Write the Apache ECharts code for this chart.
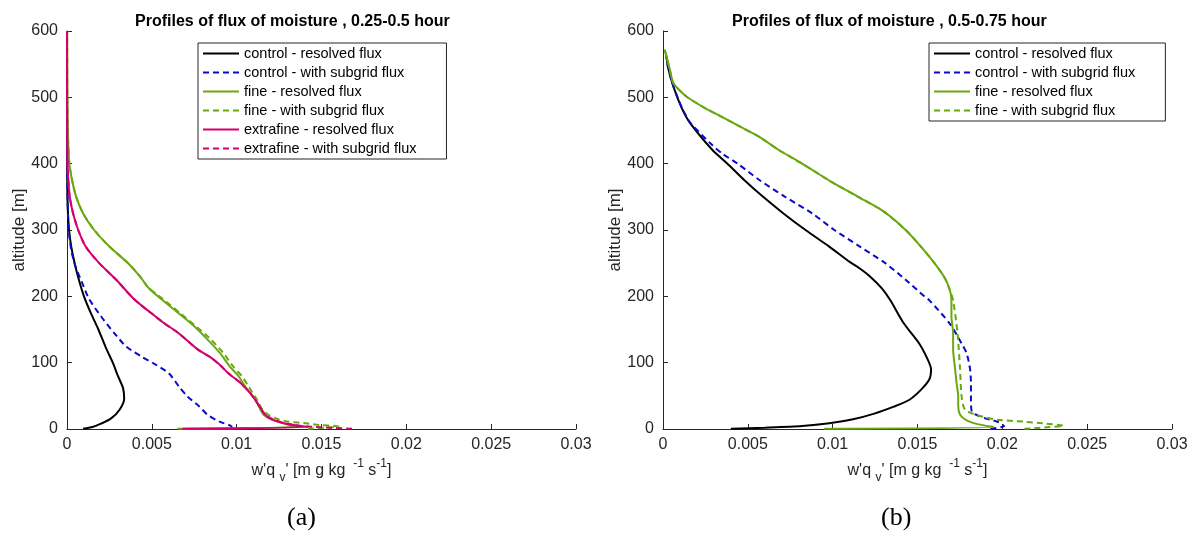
<!DOCTYPE html>
<html><head><meta charset="utf-8">
<script src="https://cdn.jsdelivr.net/npm/echarts@6/dist/echarts.min.js"></script>
<style>html,body{margin:0;padding:0;background:#fff}#c{width:1199px;height:536px}</style>
</head><body><div id="c"></div>
<script>
// ---- axis ticks ----
const xTicks = [0, 0.005, 0.01, 0.015, 0.02, 0.025, 0.03];
const yTicks = [0, 100, 200, 300, 400, 500, 600];

// ---- series names ----
const names = [
  'control - resolved flux', 'control - with subgrid flux',
  'fine - resolved flux', 'fine - with subgrid flux',
  'extrafine - resolved flux', 'extrafine - with subgrid flux'
];
const titles = ['Profiles of flux of moisture , 0.25-0.5 hour', 'Profiles of flux of moisture , 0.5-0.75 hour'];

// ---- panel (a): [flux, altitude] ----
const a_control_resolved = [[0.00095,0.3],[0.0015,3],[0.0020,8],[0.0026,16],[0.0031,29],[0.00337,46],[0.0033,62],[0.0030,80],[0.0027,100],[0.0023,122],[0.00185,150],[0.0014,175],[0.0010,200],[0.0007,225],[0.00045,250],[0.00025,275],[0.00012,300],[0.00005,330],[0.00002,360],[0.00001,400],[0,460],[0,600]];
const a_control_subgrid = [[0.0097,0.5],[0.0097,3.5],[0.0090,11],[0.0083,21],[0.0078,34],[0.0071,49],[0.0066,64],[0.0060,84],[0.0051,99],[0.0044,109],[0.0035,124],[0.0028,144],[0.0020,170],[0.0013,196],[0.0009,220],[0.0005,245],[0.00025,270],[0.0001,300],[0.00004,340],[0.00001,390],[0,460],[0,600]];
const a_fine_resolved = [[0.0065,0.3],[0.0135,3],[0.0131,6],[0.0126,10],[0.0120,15],[0.0116,21],[0.0114,29],[0.0111,44],[0.0105,64],[0.0101,80],[0.0096,94],[0.0090,115],[0.0082,137],[0.0074,157],[0.0066,174],[0.0055,197],[0.0048,213],[0.0043,230],[0.0036,250],[0.0025,275],[0.0016,300],[0.00095,325],[0.00054,350],[0.0003,375],[0.00014,400],[0.00006,440],[0.00002,500],[0.00001,600]];
const a_fine_subgrid = [[0.0142,0.3],[0.0160,4],[0.0149,6],[0.0141,8.5],[0.0131,11],[0.0124,15],[0.0119,21],[0.0115,30],[0.0112,44],[0.0107,64],[0.0103,80],[0.0098,94],[0.0092,115],[0.0084,137],[0.0075,157],[0.0067,174],[0.0056,197],[0.0048,213],[0.0043,230],[0.0036,250],[0.0025,275],[0.0016,300],[0.00095,325],[0.00054,350],[0.0003,375],[0.00014,400],[0.00006,440],[0.00002,500],[0.00001,600]];
const a_xfine_resolved = [[0.0068,0.3],[0.0142,3],[0.0134,6],[0.0127,9],[0.0121,14],[0.0117,21],[0.0113,36],[0.0108,54],[0.0102,70],[0.0096,82],[0.0089,99],[0.0084,109],[0.0077,120],[0.0066,144],[0.0057,160],[0.0050,174],[0.0044,186],[0.0039,197],[0.0029,225],[0.0019,250],[0.0011,275],[0.00066,300],[0.00036,325],[0.00016,350],[0.00008,375],[0.00003,400],[0.00001,450],[0,600]];
const a_xfine_subgrid = [[0.0168,0.3],[0.0150,2.5],[0.0137,5],[0.0128,9],[0.0122,14],[0.0117,21],[0.0113,36],[0.0108,54],[0.0102,70],[0.0096,82],[0.0089,99],[0.0084,109],[0.0077,120],[0.0066,144],[0.0057,160],[0.0050,174],[0.0044,186],[0.0039,197],[0.0029,225],[0.0019,250],[0.0011,275],[0.00066,300],[0.00036,325],[0.00016,350],[0.00008,375],[0.00003,400],[0.00001,450],[0,600]];

// ---- panel (b): [flux, altitude] ----
const b_control_resolved = [[0.0040,0.3],[0.0060,2],[0.0082,4.5],[0.0098,8.5],[0.0112,14.6],[0.0125,23.6],[0.0136,33.7],[0.0145,43.7],[0.0152,59],[0.0157,75],[0.0158,90],[0.0156,105],[0.0151,129],[0.0142,159],[0.0134,194],[0.0129,212],[0.0122,230],[0.0116,242],[0.0110,252],[0.0098,275],[0.0084,300],[0.0071,325],[0.0059,350],[0.0048,375],[0.0038,400],[0.0029,421],[0.0016,461],[0.0011,484],[0.0006,517],[0.0003,545],[0.0002,563]];
const b_control_subgrid = [[0.0193,0.3],[0.0201,4.5],[0.0197,11],[0.0190,16],[0.0185,21],[0.0182,26],[0.01815,45],[0.01815,69],[0.0181,90],[0.0179,114],[0.0176,129],[0.0169,159],[0.0157,194],[0.0154,200],[0.0143,225],[0.0131,250],[0.0116,275],[0.0101,300],[0.0088,325],[0.0072,350],[0.0057,375],[0.0044,400],[0.0035,415],[0.0029,428],[0.0016,462],[0.0011,485],[0.0006,518],[0.0003,545],[0.0002,561]];
const b_fine_resolved = [[0.0095,0.3],[0.0195,3],[0.0186,7],[0.0179,13],[0.0175,22],[0.0174,35],[0.0174,49],[0.0173,70],[0.0172,94],[0.0171,120],[0.0171,144],[0.0170,170],[0.0170,195],[0.0169,210],[0.0166,228],[0.0160,250],[0.0152,275],[0.0143,300],[0.0130,328],[0.0115,350],[0.0099,373],[0.0082,400],[0.0068,421],[0.0057,440],[0.0046,455],[0.0035,470],[0.0024,485],[0.0015,499],[0.0010,510],[0.0006,522],[0.0004,542],[0.0001,572]];
const b_fine_subgrid = [[0.0213,0.3],[0.0236,5],[0.0224,8.5],[0.0213,11],[0.0197,14],[0.0185,21],[0.0178,29],[0.0176,49],[0.0175,94],[0.01736,144],[0.0171,194],[0.0169,210],[0.0166,228],[0.0160,250],[0.0152,275],[0.0143,300],[0.0130,328],[0.0115,350],[0.0099,373],[0.0082,400],[0.0068,421],[0.0057,440],[0.0046,455],[0.0035,470],[0.0024,485],[0.0015,499],[0.0010,510],[0.0006,522],[0.0004,542],[0.0001,572]];

// ---- styling ----
const colors = { control: '#000000', subgrid: '#0a0acc', fine: '#6aa812', xfine: '#d4006e' };
const FONT = 'Liberation Sans, Arial, sans-serif';
const AX = '#262626';

function mkSeries(name, data, color, dashed, idx) {
  return {
    name, type: 'line', data, xAxisIndex: idx, yAxisIndex: idx,
    symbol: 'none', showSymbol: false, silent: true,
    smooth: 0.25,
    lineStyle: { color, width: 2, type: dashed ? [6, 4] : 'solid' },
    itemStyle: { color }
  };
}

function xAxisCfg(idx) {
  return {
    gridIndex: idx, type: 'value', min: xTicks[0], max: xTicks[xTicks.length - 1],
    interval: xTicks[1] - xTicks[0],
    axisLine: { show: true, onZero: false, lineStyle: { color: AX, width: 1 } },
    axisTick: { show: true, inside: true, length: 5, lineStyle: { color: AX } },
    axisLabel: { color: AX, fontSize: 16, fontFamily: FONT, margin: 8 },
    splitLine: { show: false },
    name: "w'q {sub|v}' [m g kg {sup| -1} s{sup|-1}]",
    nameLocation: 'middle', nameGap: 28,
    nameTextStyle: {
      color: AX, fontSize: 16, fontFamily: FONT, lineHeight: 26,
      rich: {
        sub: { fontSize: 12, fontFamily: FONT, color: AX, lineHeight: 12, verticalAlign: 'bottom' },
        sup: { fontSize: 12, fontFamily: FONT, color: AX, lineHeight: 12, verticalAlign: 'top' }
      }
    }
  };
}
function yAxisCfg(idx) {
  return {
    gridIndex: idx, type: 'value', min: yTicks[0], max: yTicks[yTicks.length - 1],
    interval: yTicks[1] - yTicks[0],
    axisLine: { show: true, onZero: false, lineStyle: { color: AX, width: 1 } },
    axisTick: { show: true, inside: true, length: 5, lineStyle: { color: AX } },
    axisLabel: { color: AX, fontSize: 16, fontFamily: FONT, margin: 9 },
    splitLine: { show: false },
    name: 'altitude [m]', nameLocation: 'middle', nameGap: 35, nameRotate: 90,
    nameTextStyle: { color: AX, fontSize: 17, fontFamily: FONT }
  };
}
function legendCfg(data, left, top, padRight) {
  return {
    data, orient: 'vertical', left, top, itemWidth: 36, itemHeight: 14, itemGap: 4,
    padding: [3, padRight, 3, 4], borderColor: AX, borderWidth: 1, borderRadius: 0,
    backgroundColor: '#fff', selectedMode: false,
    itemStyle: { opacity: 0, color: 'rgba(0,0,0,0)', borderWidth: 0 },
    textStyle: { color: '#000', fontSize: 14.5, fontFamily: FONT }
  };
}

const chart = echarts.init(document.getElementById('c'), null, { renderer: 'canvas' });
chart.setOption({
  animation: false,
  backgroundColor: '#fff',
  title: [
    { text: titles[0], left: 130, top: 9, textStyle: { fontSize: 16, fontWeight: 'bold', fontFamily: FONT, color: '#000' } },
    { text: titles[1], left: 727, top: 9, textStyle: { fontSize: 16, fontWeight: 'bold', fontFamily: FONT, color: '#000' } }
  ],
  grid: [
    { left: 67, right: 1199 - 576, top: 31, bottom: 536 - 429 },
    { left: 663, right: 1199 - 1172, top: 31, bottom: 536 - 429 }
  ],
  xAxis: [xAxisCfg(0), xAxisCfg(1)],
  yAxis: [yAxisCfg(0), yAxisCfg(1)],
  legend: [
    legendCfg(names, 198, 43, 30),
    legendCfg(names.slice(0, 4), 929, 43, 30)
  ],
  graphic: [
    { type: 'text', left: 302 - 15, top: 505, style: { text: '(a)', font: '26px "Liberation Serif", serif', fill: '#000' } },
    { type: 'text', left: 896 - 15, top: 505, style: { text: '(b)', font: '26px "Liberation Serif", serif', fill: '#000' } }
  ],
  series: [
    mkSeries(names[0], a_control_resolved, colors.control, false, 0),
    mkSeries(names[1], a_control_subgrid, colors.subgrid, true, 0),
    mkSeries(names[2], a_fine_resolved, colors.fine, false, 0),
    mkSeries(names[3], a_fine_subgrid, colors.fine, true, 0),
    mkSeries(names[4], a_xfine_resolved, colors.xfine, false, 0),
    mkSeries(names[5], a_xfine_subgrid, colors.xfine, true, 0),
    mkSeries(names[0], b_control_resolved, colors.control, false, 1),
    mkSeries(names[1], b_control_subgrid, colors.subgrid, true, 1),
    mkSeries(names[2], b_fine_resolved, colors.fine, false, 1),
    mkSeries(names[3], b_fine_subgrid, colors.fine, true, 1)
  ]
});
</script></body></html>
